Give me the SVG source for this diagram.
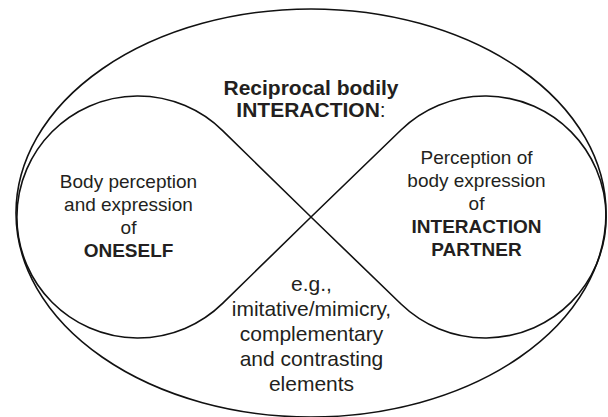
<svg xmlns="http://www.w3.org/2000/svg" width="608" height="417" viewBox="0 0 608 417">
  <style>
    .line { fill: none; stroke: #111; stroke-width: 1.6; }
    .t { font-family: "Liberation Sans", Arial, sans-serif; fill: #231f20; text-anchor: middle; }
    .s19 { font-size: 19px; }
    .s21 { font-size: 21px; }
    .b { font-weight: bold; }
  </style>
  <rect width="608" height="417" fill="#ffffff"/>
  <g id="outer">
    <ellipse class="line" cx="311" cy="213" rx="295" ry="204"/>
    <text class="t s21 b" x="311" y="94.5">Reciprocal bodily</text>
    <text class="t s21 b" x="311" y="116.8">INTERACTION<tspan font-weight="normal">:</tspan></text>
  </g>
  <g id="infinity">
    <path class="line" d="M311,217 L401,130 A121,121 0 1 1 401,304 L311,217 L222.6,303.4 A121,121 0 1 1 222.6,130.6 Z"/>
  </g>
  <g id="oneself">
    <text class="t s19" x="128.5" y="188.3">Body perception</text>
    <text class="t s19" x="128.5" y="211">and expression</text>
    <text class="t s19" x="128.5" y="233.5">of</text>
    <text class="t s19 b" x="128.5" y="256.5">ONESELF</text>
  </g>
  <g id="partner">
    <text class="t s19" x="476.5" y="164.3">Perception of</text>
    <text class="t s19" x="476.5" y="187.3">body expression</text>
    <text class="t s19" x="476.5" y="210">of</text>
    <text class="t s19 b" x="476.5" y="233.3">INTERACTION</text>
    <text class="t s19 b" x="476.5" y="256">PARTNER</text>
  </g>
  <g id="elements">
    <text class="t s21" x="311.5" y="290.5">e.g.,</text>
    <text class="t s21" x="311.5" y="315.5">imitative/mimicry,</text>
    <text class="t s21" x="311.5" y="341">complementary</text>
    <text class="t s21" x="311.5" y="366.2">and contrasting</text>
    <text class="t s21" x="311.5" y="391.4">elements</text>
  </g>
</svg>
